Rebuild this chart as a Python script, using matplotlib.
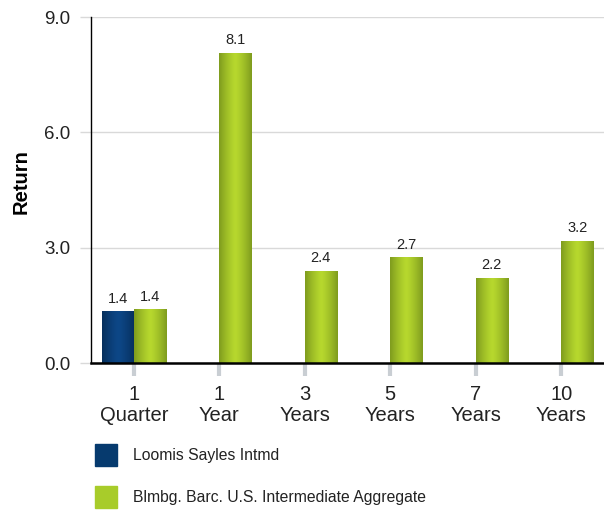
import numpy as np
import matplotlib
matplotlib.use('Agg')
import matplotlib.pyplot as plt
from matplotlib.patches import Rectangle

plt.rcParams['font.family'] = ['Liberation Sans', 'DejaVu Sans']

# Data
periods = ['1\nQuarter', '1\nYear', '3\nYears', '5\nYears', '7\nYears', '10\nYears']
fund = [1.35, np.nan, np.nan, np.nan, np.nan, np.nan]
index = [1.40, 8.07, 2.40, 2.75, 2.22, 3.18]
fund_labels = ['1.4', '', '', '', '', '']
index_labels = ['1.4', '8.1', '2.4', '2.7', '2.2', '3.2']
series_names = ['Loomis Sayles Intmd', 'Blmbg. Barc. U.S. Intermediate Aggregate']

blue_edge, blue_mid = '#062f5c', '#0d4787'
green_edge, green_mid = '#7f9c1e', '#b7d82e'


def gradient_fill(ax, bars, edge, mid):
    # horizontal gradient: dark edges, bright center
    t = np.linspace(0, 1, 64)
    w = 1 - np.abs(2 * t - 1) ** 1.3
    c0 = np.array(matplotlib.colors.to_rgb(edge))
    c1 = np.array(matplotlib.colors.to_rgb(mid))
    img = (c0[None, :] * (1 - w[:, None]) + c1[None, :] * w[:, None])[None, :, :]
    for b in bars:
        h = b.get_height()
        if np.isnan(h) or h == 0:
            continue
        x0 = b.get_x()
        im = ax.imshow(img, extent=[x0, x0 + b.get_width(), 0, h],
                       aspect='auto', zorder=3, interpolation='bicubic')
        im.set_clip_path(b)
        b.set_facecolor('none')


fig = plt.figure(figsize=(6.04, 5.11), dpi=100)
ax = fig.add_axes([0.1507, 0.2896, 0.8493, 0.6771])

x = np.arange(len(periods))
w = 0.375
b1 = ax.bar(x - w / 2, fund, w, color=blue_mid, zorder=3, linewidth=0)
b2 = ax.bar(x + w / 2, index, w, color=green_mid, zorder=3, linewidth=0)
gradient_fill(ax, b1, blue_edge, blue_mid)
gradient_fill(ax, b2, green_edge, green_mid)

for bars, labels in [(b1, fund_labels), (b2, index_labels)]:
    for b, lab in zip(bars, labels):
        if not lab:
            continue
        ax.text(b.get_x() + b.get_width() / 2, b.get_height() + 0.14, lab,
                ha='center', va='bottom', fontsize=10.5, color='#222222')

ax.set_xlim(-0.5, len(periods) - 0.5)
ax.set_ylim(0, 9)
ax.set_yticks([0, 3, 6, 9])
ax.set_yticklabels(['%.1f' % v for v in [0, 3, 6, 9]], fontsize=13.5, color='#222222')
ax.set_xticks(x)
ax.set_xticklabels(periods, fontsize=14.5, color='#222222', linespacing=1.12)
ax.tick_params(axis='x', length=9, width=3, color='#c9ced3', pad=7)
ax.tick_params(axis='y', length=8, width=1, color='#d9d9d9', pad=7)
ax.grid(axis='y', color='#d9d9d9', linewidth=1, zorder=0)
ax.set_axisbelow(True)
ax.set_ylabel('Return', fontsize=14.5, fontweight='bold')
ax.yaxis.set_label_coords(-0.117, 0.523)

for s in ['top', 'right']:
    ax.spines[s].set_visible(False)
ax.spines['left'].set_color('black')
ax.spines['left'].set_linewidth(1)
ax.spines['bottom'].set_color('black')
ax.spines['bottom'].set_linewidth(1.8)
ax.spines['bottom'].set_zorder(5)

# legend drawn below the plot
legend_colors = ['#063a6e', '#a8cc2a']
legend_y = [455, 497]
for name, col, yy in zip(series_names, legend_colors, legend_y):
    fy = 1 - yy / 511
    fig.patches.append(Rectangle((95 / 604, fy - 11 / 511), 22 / 604, 22 / 511,
                                 transform=fig.transFigure, color=col))
    fig.text(133 / 604, fy, name, fontsize=11.3, va='center', ha='left', color='#222222')

fig.savefig('out.png', dpi=100)
